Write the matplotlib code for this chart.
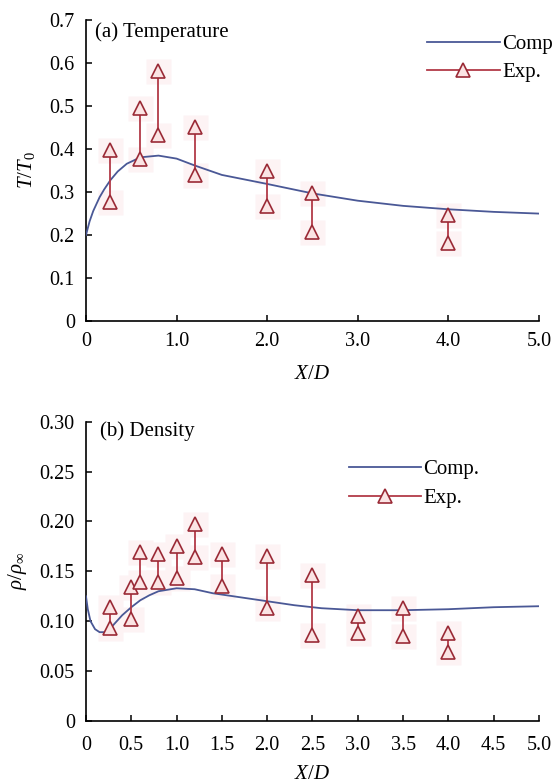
import numpy as np
import matplotlib.pyplot as plt

plt.rcParams['font.family'] = ['Liberation Serif', 'DejaVu Serif']
plt.rcParams['mathtext.fontset'] = 'custom'
plt.rcParams['mathtext.rm'] = 'Liberation Serif'
plt.rcParams['mathtext.it'] = 'Liberation Serif:italic'
plt.rcParams['font.size'] = 15

# ----------------------------
# (a) Temperature data
# ----------------------------
temp_comp_x = [0, 0.04, 0.08, 0.15, 0.2, 0.27, 0.35, 0.45, 0.6, 0.8, 1.0, 1.2,
               1.5, 2.0, 2.5, 3.0, 3.5, 4.0, 4.5, 5.0]
temp_comp_y = [0.200, 0.232, 0.256, 0.288, 0.306, 0.328, 0.348, 0.366, 0.381, 0.385,
               0.378, 0.362, 0.340, 0.319, 0.297, 0.280, 0.268, 0.260, 0.254, 0.250]
temp_exp_x = [0.27, 0.6, 0.8, 1.2, 2.0, 2.5, 4.0]
temp_exp_hi = [0.397, 0.496, 0.583, 0.452, 0.348, 0.299, 0.246]
temp_exp_lo = [0.277, 0.376, 0.434, 0.341, 0.268, 0.208, 0.182]

# ----------------------------
# (b) Density data
# ----------------------------
dens_comp_x = [0, 0.02, 0.05, 0.1, 0.15, 0.2, 0.25, 0.3, 0.4, 0.5, 0.6, 0.7, 0.8,
               1.0, 1.2, 1.4, 1.7, 2.0, 2.3, 2.6, 3.0, 3.5, 4.0, 4.5, 5.0]
dens_comp_y = [0.125, 0.112, 0.100, 0.092, 0.089, 0.089, 0.091, 0.096, 0.106, 0.114,
               0.121, 0.126, 0.130, 0.133, 0.132, 0.128, 0.124, 0.120, 0.116, 0.113,
               0.111, 0.111, 0.112, 0.114, 0.115]
dens_exp_x = [0.27, 0.5, 0.6, 0.8, 1.0, 1.2, 1.5, 2.0, 2.5, 3.0, 3.5, 4.0]
dens_exp_hi = [0.114, 0.134, 0.169, 0.167, 0.175, 0.197, 0.167, 0.165, 0.146, 0.105, 0.113, 0.088]
dens_exp_lo = [0.093, 0.102, 0.139, 0.139, 0.143, 0.164, 0.135, 0.113, 0.086, 0.088, 0.085, 0.069]

temp_yticks = [0, 0.1, 0.2, 0.3, 0.4, 0.5, 0.6, 0.7]
temp_ylabels = ['0', '0.1', '0.2', '0.3', '0.4', '0.5', '0.6', '0.7']
temp_xticks = [0, 1, 2, 3, 4, 5]
temp_xlabels = ['0', '1.0', '2.0', '3.0', '4.0', '5.0']
dens_yticks = [0, 0.05, 0.10, 0.15, 0.20, 0.25, 0.30]
dens_ylabels = ['0', '0.05', '0.10', '0.15', '0.20', '0.25', '0.30']
dens_xticks = [0, 0.5, 1, 1.5, 2, 2.5, 3, 3.5, 4, 4.5, 5]
dens_xlabels = ['0', '0.5', '1.0', '1.5', '2.0', '2.5', '3.0', '3.5', '4.0', '4.5', '5.0']

BLUE = '#4a5896'
RED = '#b23a48'
DARKRED = '#9a2a36'
PINK = '#fbe4e4'
HALO = '#fdf3f4'


def draw_panel(ax, cx, cy, ex, elo, ehi):
    ax.plot(cx, cy, color=BLUE, lw=1.3, label='Comp.', zorder=3)
    # faint halo behind markers
    ax.plot(ex, elo, ls='none', marker='s', ms=18, mfc=HALO, mec='none', zorder=1)
    ax.plot(ex, ehi, ls='none', marker='s', ms=18, mfc=HALO, mec='none', zorder=1)
    for i, (x, lo, hi) in enumerate(zip(ex, elo, ehi)):
        ax.plot([x, x], [lo, hi], color=RED, lw=1.3, marker='^', ms=10,
                mfc=PINK, mec=DARKRED, mew=1.2, zorder=4,
                label='Exp.' if i == 0 else None)
    for s in ['top', 'right']:
        ax.spines[s].set_visible(False)
    for s in ['left', 'bottom']:
        ax.spines[s].set_linewidth(1.2)
    ax.tick_params(direction='in', length=4.5, width=1.1, labelsize=14.5)
    ax.set_xlim(0, 5)


fig = plt.figure(figsize=(5.54, 7.84), dpi=100)
ax1 = fig.add_axes([0.1552, 0.5906, 0.8177, 0.3835])
ax2 = fig.add_axes([0.1552, 0.0804, 0.8177, 0.3818])

# ----------------------------
# (a) Temperature
# ----------------------------
draw_panel(ax1, temp_comp_x, temp_comp_y, temp_exp_x, temp_exp_lo, temp_exp_hi)
ax1.set_ylim(0, 0.7)
ax1.set_yticks(temp_yticks)
ax1.set_yticklabels(temp_ylabels)
ax1.set_xticks(temp_xticks)
ax1.set_xticklabels(temp_xlabels)
ax1.tick_params(axis='x', pad=8)
ax1.tick_params(axis='y', pad=8)
ax1.set_xlabel('$X/D$', fontsize=15)
ax1.xaxis.set_label_coords(0.5, -0.145)
ax1.set_ylabel(r'$T/T_{\mathrm{0}}$', fontsize=15)
ax1.yaxis.set_label_coords(-0.108, 0.5)
ax1.text(0.021, 0.962, '(a) Temperature', transform=ax1.transAxes,
         ha='left', va='center', fontsize=15)
ax1.legend(loc='upper left', bbox_to_anchor=(426.7 / 554, 1 - 34.6 / 784),
           bbox_transform=fig.transFigure, frameon=False, fontsize=15,
           handlelength=3.5, handletextpad=0.12, labelspacing=0.41,
           borderpad=0, borderaxespad=0)

# ----------------------------
# (b) Density
# ----------------------------
draw_panel(ax2, dens_comp_x, dens_comp_y, dens_exp_x, dens_exp_lo, dens_exp_hi)
ax2.set_ylim(0, 0.30)
ax2.set_yticks(dens_yticks)
ax2.set_yticklabels(dens_ylabels)
ax2.set_xticks(dens_xticks)
ax2.set_xticklabels(dens_xlabels)
ax2.tick_params(axis='x', pad=11)
ax2.tick_params(axis='y', pad=8)
ax2.set_xlabel('$X/D$', fontsize=15)
ax2.xaxis.set_label_coords(0.5, -0.147)
ax2.set_ylabel(r'$\rho/\rho_{\infty}$', fontsize=15)
ax2.yaxis.set_label_coords(-0.125, 0.5)
ax2.text(0.032, 0.967, '(b) Density', transform=ax2.transAxes,
         ha='left', va='center', fontsize=15)
ax2.legend(loc='upper left', bbox_to_anchor=(349 / 554, 1 - 459.6 / 784),
           bbox_transform=fig.transFigure, frameon=False, fontsize=15,
           handlelength=3.44, handletextpad=0.12, labelspacing=0.46,
           borderpad=0, borderaxespad=0)

fig.savefig('out.png', dpi=100)
